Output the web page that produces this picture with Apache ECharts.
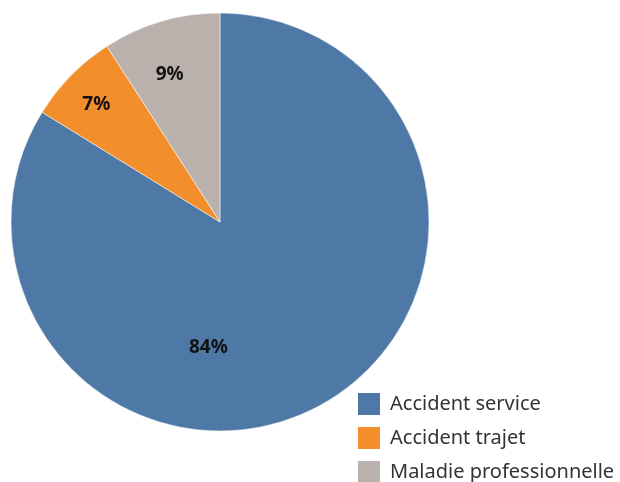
<!DOCTYPE html>
<html>
<head>
<meta charset="utf-8">
<style>
  html, body { margin: 0; padding: 0; background: #fff; }
  #chart { width: 620px; height: 482px; }
</style>
<script src="https://cdn.jsdelivr.net/npm/echarts@6/dist/echarts.min.js"></script>
</head>
<body>
<div id="chart"></div>
<script>
// categories and shares (percent)
var categories = ['Accident service', 'Accident trajet', 'Maladie professionnelle'];
var shares = [83.8, 7.1, 9.1];
var colors = ['#4e79a7', '#f28e2b', '#bab0ac'];
// label nudges so they sit like the original
var labelOffsets = [[-64, 32], [-47, -42], [-20, -44]];

var myChart = echarts.init(document.getElementById('chart'));

var option = {
    animation: false,
    color: colors,
    legend: {
        orient: 'vertical',
        left: 356,
        top: 391,
        width: 264,
        height: 150,
        padding: 0,
        itemWidth: 24,
        itemHeight: 24,
        itemGap: 8,
        icon: 'rect',
        selectedMode: false,
        textStyle: {
            fontFamily: 'Noto Sans',
            fontSize: 20,
            color: '#333',
            padding: [0, 0, 0, 4]
        },
        data: categories
    },
    series: [{
        type: 'pie',
        center: [220, 222],
        radius: 209,
        startAngle: 90,
        clockwise: true,
        avoidLabelOverlap: false,
        itemStyle: {
            borderColor: '#fff',
            borderWidth: 0.5
        },
        emphasis: { disabled: true },
        label: {
            show: true,
            position: 'inside',
            fontFamily: 'Noto Sans',
            fontSize: 19,
            fontWeight: 'bold',
            color: '#111',
            formatter: function (p) { return Math.round(p.value) + '%'; }
        },
        labelLine: { show: false },
        data: categories.map(function (name, i) {
            return {
                name: name,
                value: shares[i],
                label: { offset: labelOffsets[i] }
            };
        })
    }]
};

myChart.setOption(option);
</script>
</body>
</html>
